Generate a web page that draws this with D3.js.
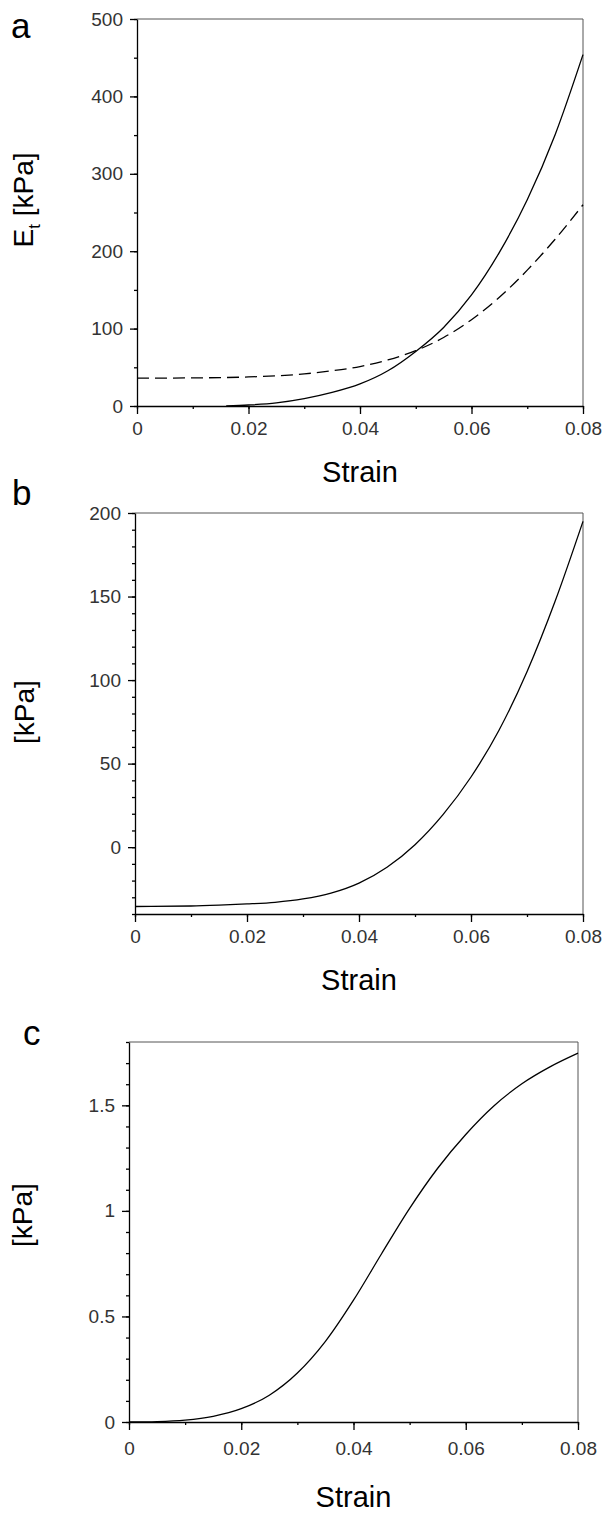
<!DOCTYPE html>
<html lang="en">
<head>
<meta charset="UTF-8">
<script src="https://d3js.org/d3.v7.min.js"></script>
<style>
body { margin: 0; background: #fff; }
svg { display: block; font-family: "Liberation Sans", Arial, sans-serif; }
.tick text { fill: #333; font-size: 19px; }
.axis path, .axis line { stroke: #000; stroke-width: 1.3px; }
.frame { stroke: #555; stroke-width: 1px; fill: none; }
.curve { fill: none; stroke: #000; stroke-width: 1.3px; }
</style>
</head>
<body>
<svg id="chart" width="603" height="1514"></svg>
<script>
// ---- data ----
const xTicks = [0, 0.02, 0.04, 0.06, 0.08];

// panel a : tangent modulus
const strainA1 = [0.016, 0.02, 0.025, 0.03, 0.035, 0.04, 0.045, 0.05, 0.055, 0.06, 0.065, 0.07, 0.075, 0.08];
const etSolid  = [0, 1.3, 4, 9.5, 17.5, 28.5, 45.5, 70.5, 101.5, 143.5, 198.5, 266.5, 350.5, 454];
const strainA2 = [0, 0.01, 0.02, 0.025, 0.03, 0.035, 0.04, 0.045, 0.05, 0.055, 0.06, 0.065, 0.07, 0.075, 0.08];
const etDashed = [36, 36.3, 37.5, 39, 41.5, 45.5, 51, 59.5, 71.5, 88.5, 111.5, 140.5, 175.5, 215.5, 260];
const yTicksA = [0, 100, 200, 300, 400, 500];

// panel b
const strainB = [0, 0.01, 0.015, 0.02, 0.025, 0.03, 0.035, 0.04, 0.045, 0.05, 0.055, 0.06, 0.065, 0.07, 0.075, 0.08];
const valB    = [-35.5, -35.2, -34.7, -34, -33, -31, -27.5, -21.5, -12, 1.5, 19.5, 42, 70, 105, 147, 195];
const yTicksB = [0, 50, 100, 150, 200];

// panel c
const strainC = [0, 0.005, 0.01, 0.015, 0.02, 0.025, 0.03, 0.035, 0.04, 0.045, 0.05, 0.055, 0.06, 0.065, 0.07, 0.075, 0.08];
const valC    = [0, 0.002, 0.009, 0.027, 0.063, 0.127, 0.232, 0.382, 0.577, 0.797, 1.012, 1.202, 1.362, 1.497, 1.602, 1.682, 1.747];
const yTicksC = [0, 0.5, 1, 1.5];

const svg = d3.select("#chart");

function drawPanel(p) {
  var g = svg.append("g");
  var x = d3.scaleLinear().domain([0, 0.08]).range([p.left, p.right]);
  var y = d3.scaleLinear().domain(p.yDomain).range([p.bottom, p.top]);

  // frame (top and right)
  g.append("path").attr("class", "frame")
    .attr("d", "M" + p.left + "," + p.top + "H" + p.right + "V" + p.bottom);

  // minor ticks
  var xMinor = d3.range(0, 0.0801, 0.01);
  g.append("g").attr("class", "axis")
    .attr("transform", "translate(0," + p.bottom + ")")
    .call(d3.axisBottom(x).tickValues(xMinor).tickSize(3).tickFormat(""))
    .call(s => s.select(".domain").remove());
  var yMinor = d3.range(p.yDomain[0], p.yDomain[1] + p.minor / 2, p.minor);
  g.append("g").attr("class", "axis")
    .attr("transform", "translate(" + p.left + ",0)")
    .call(d3.axisLeft(y).tickValues(yMinor).tickSize(3).tickFormat(""))
    .call(s => s.select(".domain").remove());

  // major axes
  g.append("g").attr("class", "axis")
    .attr("transform", "translate(0," + p.bottom + ")")
    .call(d3.axisBottom(x).tickValues(xTicks).tickSize(8).tickSizeOuter(0)
      .tickPadding(p.xPad).tickFormat(d => String(d)));
  g.append("g").attr("class", "axis")
    .attr("transform", "translate(" + p.left + ",0)")
    .call(d3.axisLeft(y).tickValues(p.yTicks).tickSize(7).tickSizeOuter(0)
      .tickPadding(7).tickFormat(d => String(d)));

  // curves
  var line = d3.line().curve(d3.curveMonotoneX)
    .x(d => x(d[0])).y(d => y(d[1]));
  p.series.forEach(function(s) {
    g.append("path").attr("class", "curve")
      .attr("stroke-dasharray", s.dash || null)
      .attr("d", line(d3.zip(s.xs, s.ys)));
  });

  // x label
  g.append("text").attr("x", (p.left + p.right) / 2).attr("y", p.bottom + p.xLab)
    .attr("text-anchor", "middle").attr("font-size", 29).attr("fill", "#000")
    .text("Strain");

  // panel letter
  g.append("text").attr("x", p.letterX).attr("y", p.letterY)
    .attr("font-size", 35).attr("fill", "#000").text(p.letter);

  // y label
  var yl = g.append("text")
    .attr("transform", "translate(" + p.yLabX + "," + p.yLabY + ") rotate(-90)")
    .attr("text-anchor", "middle").attr("font-size", 28).attr("fill", "#000");
  if (p.subE) {
    yl.append("tspan").text("E");
    yl.append("tspan").attr("font-size", 17).attr("dy", 7).text("t");
    yl.append("tspan").attr("dy", -7).text(" [kPa]");
  } else {
    yl.text("[kPa]");
  }
}

drawPanel({
  left: 137, right: 583, top: 19, bottom: 406,
  yDomain: [0, 500], yTicks: yTicksA, minor: 50,
  series: [{xs: strainA1, ys: etSolid}, {xs: strainA2, ys: etDashed, dash: "12,6"}],
  xPad: 8, xLab: 76, letter: "a", letterX: 11, letterY: 38,
  yLabX: 33, yLabY: 200, subE: true
});

drawPanel({
  left: 135, right: 583, top: 513, bottom: 914,
  yDomain: [-40, 200], yTicks: yTicksB, minor: 10,
  series: [{xs: strainB, ys: valB}],
  xPad: 8, xLab: 76, letter: "b", letterX: 12, letterY: 505,
  yLabX: 34, yLabY: 712, subE: false
});

drawPanel({
  left: 129, right: 578, top: 1042, bottom: 1422,
  yDomain: [0, 1.8], yTicks: yTicksC, minor: 0.1,
  series: [{xs: strainC, ys: valC}],
  xPad: 12, xLab: 85, letter: "c", letterX: 23, letterY: 1045,
  yLabX: 32, yLabY: 1215, subE: false
});
</script>
</body>
</html>
